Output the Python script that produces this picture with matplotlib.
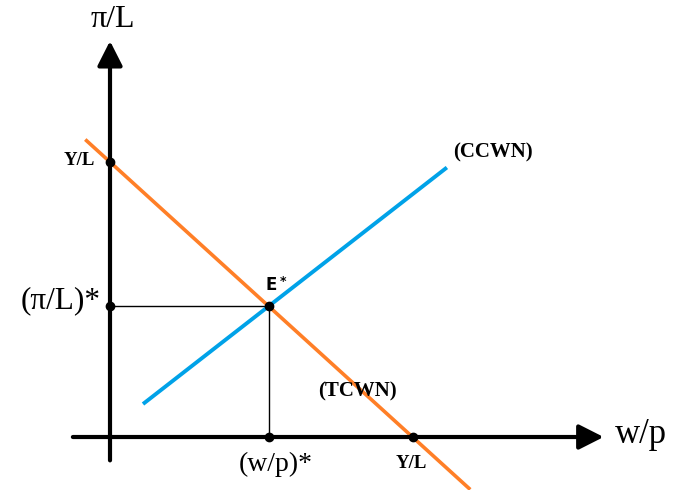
import matplotlib.pyplot as plt

# Market for labour: profit per worker vs real wage
pi_intercept = 10.0      # Y/L on the vertical axis
w_intercept = 11.0       # Y/L on the horizontal axis
tcwn_x = [-0.9, 13.1]
ccwn_x = [1.2, 12.25]
ccwn_y = [1.2, 9.8]

axis_labels = ["w/p", "π/L"]
curve_labels = ["(TCWN)", "(CCWN)"]
eq_labels = ["(w/p)*", "(π/L)*", "E*", "Y/L"]

ORANGE = "#FF7F27"
BLUE = "#00A2E8"


def tcwn(x):
    return pi_intercept - pi_intercept / w_intercept * x


def main():
    fig = plt.figure(figsize=(6.8, 4.9), dpi=100)
    ax = fig.add_axes([0, 0, 1, 1])
    ax.set_xlim(-4.0, 20.727)
    ax.set_ylim(-1.927, 15.891)
    ax.axis("off")

    # axes with arrow heads
    arrow = dict(arrowstyle="-|>,head_length=0.75,head_width=0.38",
                 lw=3, color="black", mutation_scale=20,
                 shrinkA=0, shrinkB=0)
    ax.annotate("", xy=(17.95, 0), xytext=(-1.35, 0), arrowprops=arrow)
    ax.annotate("", xy=(0, 14.4), xytext=(0, -0.85), arrowprops=arrow)

    # equilibrium from the two straight lines
    slope_c = (ccwn_y[1] - ccwn_y[0]) / (ccwn_x[1] - ccwn_x[0])
    slope_t = -pi_intercept / w_intercept
    x_eq = (pi_intercept - ccwn_y[0] + slope_c * ccwn_x[0]) / (slope_c - slope_t)
    y_eq = tcwn(x_eq)

    ax.plot([0, x_eq], [y_eq, y_eq], color="black", lw=1)
    ax.plot([x_eq, x_eq], [0, y_eq], color="black", lw=1)

    ax.plot(tcwn_x, [tcwn(x) for x in tcwn_x], color=ORANGE, lw=2.6,
            solid_capstyle="butt")
    ax.plot(ccwn_x, ccwn_y, color=BLUE, lw=2.8, solid_capstyle="butt")

    ax.plot([0, w_intercept, 0, x_eq, x_eq], [pi_intercept, 0, y_eq, 0, y_eq],
            "o", color="black", ms=6, zorder=5)

    serif = "Liberation Serif"
    ax.text(18.35, 0.1, axis_labels[0], fontsize=25, family=serif,
            ha="left", va="center")
    ax.text(0.1, 15.2, axis_labels[1], fontsize=23, family=serif,
            ha="center", va="center")

    ax.text(-0.55, pi_intercept + 0.05, eq_labels[3], fontsize=13.5,
            family=serif, weight="bold", ha="right", va="center")
    ax.text(w_intercept - 0.05, -0.95, eq_labels[3], fontsize=13.5,
            family=serif, weight="bold", ha="center", va="center")
    ax.text(-0.35, y_eq + 0.2, eq_labels[1], fontsize=22.5, family=serif,
            ha="right", va="center")
    ax.text(x_eq + 0.25, -1.0, eq_labels[0], fontsize=20, family=serif,
            ha="center", va="center")
    ax.text(x_eq - 0.1, y_eq + 0.45, "E", fontsize=12, family="DejaVu Sans",
            weight="bold", ha="left", va="bottom")
    ax.text(x_eq + 0.4, y_eq + 0.65, "*", fontsize=9, family="DejaVu Sans",
            weight="bold", ha="left", va="bottom")

    ax.text(8.98, 1.65, curve_labels[0], fontsize=15, family=serif,
            weight="bold", ha="center", va="center")
    ax.text(13.93, 10.35, curve_labels[1], fontsize=15, family=serif,
            weight="bold", ha="center", va="center")

    fig.savefig("out.png", dpi=100)


if __name__ == "__main__":
    main()
